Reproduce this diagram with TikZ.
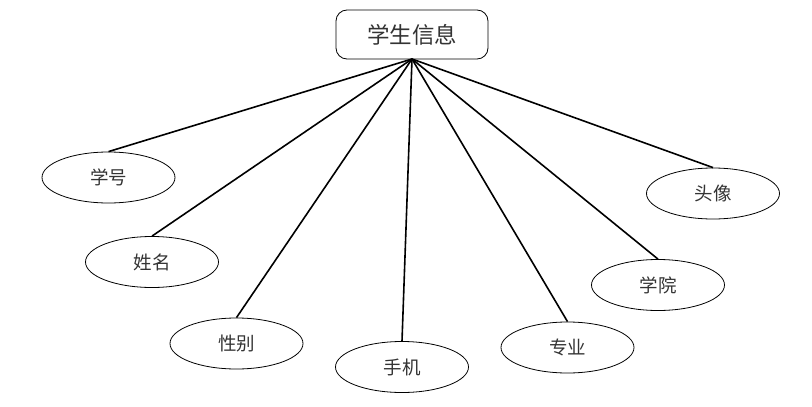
\documentclass[tikz,border=0pt]{standalone}
\usepackage{fontspec}
\setmainfont{Noto Sans CJK SC}
\usetikzlibrary{shapes.geometric}
\tikzset{
  attr/.style={ellipse, draw, line width=0.8pt, minimum width=133pt, minimum height=51pt, inner sep=0pt, font=\fontsize{18.5}{18.5}\selectfont, text=black!80},
  topbox/.style={rectangle, rounded corners=11pt, draw, line width=0.8pt, minimum width=152pt, minimum height=49pt, inner sep=0pt, font=\fontsize{22.5}{22.5}\selectfont, text=black!80},
  link/.style={line width=1.6pt}
}
\begin{document}
\begin{tikzpicture}[x=1pt,y=-1pt]
\useasboundingbox (0,0) rectangle (812,407);
\node[topbox] (top) at (412,34.5) {学生信息};
\coordinate (hub) at (412,59);
\node[attr] (xh) at (108.5,177.5) {学号};
\node[attr] (xm) at (152,262) {姓名};
\node[attr] (xb) at (236.5,343.5) {性别};
\node[attr] (sj) at (402,367) {手机};
\node[attr] (zy) at (567.5,347.5) {专业};
\node[attr] (xy) at (658,285) {学院};
\node[attr] (tx) at (713,193.5) {头像};
\foreach \n in {xh,xm,xb,sj,zy,xy,tx}
  \draw[link] (hub) -- (\n.north);
\end{tikzpicture}
\end{document}
